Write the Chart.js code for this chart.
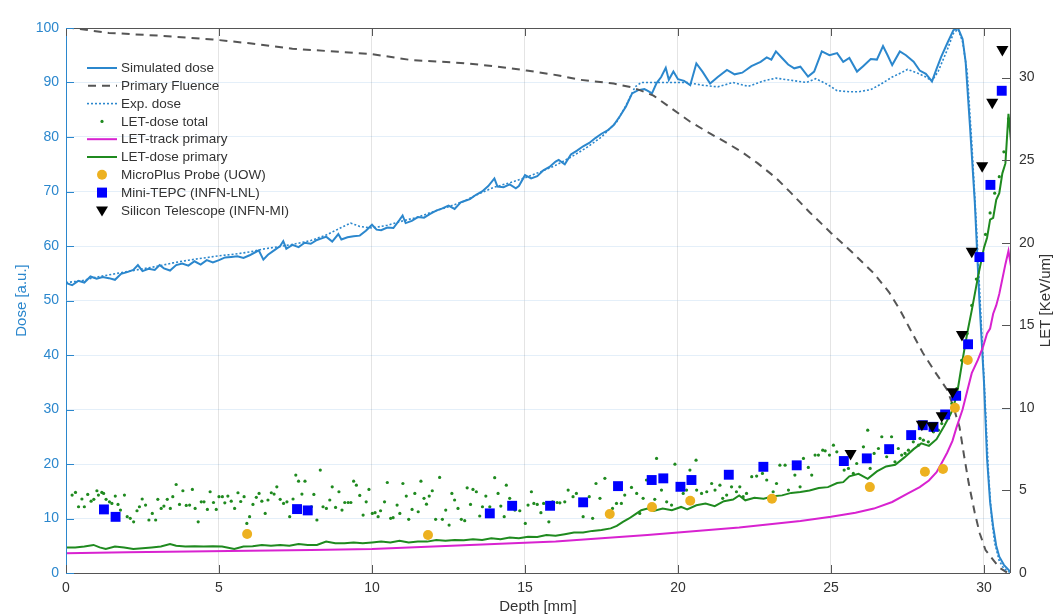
<!DOCTYPE html>
<html><head><meta charset="utf-8">
<script src="https://cdn.jsdelivr.net/npm/chart.js@4.4.1/dist/chart.umd.min.js"></script>
<style>html,body{margin:0;padding:0;background:#fff;overflow:hidden}</style>
</head><body>
<canvas id="c" width="1056" height="615"></canvas>
<script>
// ---------- DATA ----------
const seriesNames = ["Simulated dose","Primary Fluence","Exp. dose","LET-dose total","LET-track primary","LET-dose primary","MicroPlus Probe (UOW)","Mini-TEPC (INFN-LNL)","Silicon Telescope (INFN-MI)"];
const xTicks = [0,5,10,15,20,25,30];
const doseTicks = [0,10,20,30,40,50,60,70,80,90,100];
const letTicks = [0,5,10,15,20,25,30];

const simDepth = [0,0.2,0.4,0.6,0.8,1.0,1.2,1.4,1.6,1.8,2.0,2.2,2.35,2.5,2.7,2.9,3.06,3.2,3.4,3.6,3.8,4.0,4.2,4.4,4.6,4.8,5.0,5.2,5.4,5.6,5.8,6.0,6.2,6.3,6.45,6.6,6.8,7.0,7.1,7.2,7.4,7.6,7.8,8.0,8.2,8.4,8.5,8.7,8.9,9.0,9.2,9.4,9.6,9.8,10.0,10.15,10.3,10.5,10.7,10.9,11.0,11.1,11.3,11.5,11.7,11.9,12.1,12.3,12.5,12.7,12.9,13.0,13.2,13.4,13.6,13.8,14.0,14.1,14.3,14.5,14.7,14.8,15.0,15.2,15.4,15.6,15.8,16.0,16.1,16.3,16.5,16.7,16.9,17.1,17.3,17.5,17.7,17.9,18.1,18.3,18.5,18.7,18.9,19.0,19.15,19.3,19.45,19.6,19.7,19.85,20.0,20.2,20.4,20.6,20.8,21.05,21.3,21.6,21.85,22.1,22.4,22.7,22.9,23.05,23.2,23.4,23.6,23.8,24.0,24.25,24.45,24.7,24.95,25.2,25.4,25.6,25.85,26.05,26.3,26.5,26.7,26.85,27.0,27.25,27.45,27.7,27.9,28.1,28.3,28.45,28.6,28.8,29.0,29.15,29.3,29.4,29.55,29.7,29.85,30.0,30.1,30.2,30.3,30.4,30.5,30.65,30.85];
const simDose = [53.2,52.8,53.6,53.3,54.4,54.0,54.3,54.1,53.8,54.9,55.2,55.6,56.5,55.4,55.8,55.6,56.5,55.9,55.5,56.5,56.8,56.4,57.2,56.6,57.4,57.0,57.4,57.9,58.0,58.1,57.8,58.3,58.9,59.2,57.5,58.4,59.2,60.0,60.9,59.5,60.2,59.8,60.6,60.4,61.1,61.5,61.7,60.8,62.2,61.2,61.6,61.8,61.9,62.8,63.9,63.0,62.9,63.4,63.3,64.8,65.6,64.2,64.6,65.3,65.2,65.9,66.5,66.9,67.4,66.8,68.0,68.2,68.6,69.4,70.0,71.0,72.4,70.9,70.8,71.3,70.6,71.0,73.0,72.4,72.8,73.9,74.5,75.5,75.8,75.0,76.8,77.5,78.3,78.9,79.8,80.6,81.2,82.2,83.8,85.6,88.0,88.6,88.8,88.5,88.0,89.9,91.0,92.7,90.5,92.0,90.6,90.3,89.5,93.5,92.0,89.8,91.0,92.3,91.5,91.8,93.0,93.8,94.6,94.2,95.7,94.5,93.3,92.6,92.9,91.1,92.0,95.7,95.0,95.4,93.8,94.5,92.0,93.0,94.3,94.2,96.7,95.0,93.2,95.7,95.0,93.8,92.2,91.6,90.2,92.5,94.7,97.2,99.6,100.0,98.0,93.8,81.3,68,50,35,21,13,8.5,5,3,1.5,0.3];

const expDepth = [0,0.5,1,1.5,2,2.5,3,3.5,4,4.5,5,5.5,6,6.5,7,7.5,8,8.5,9,9.3,9.6,10,10.5,11,11.5,12,12.5,13,13.5,14,14.5,15,15.5,16,16.5,17,17.5,18,18.3,18.6,18.8,19.5,20.3,20.8,21.3,21.8,22.3,22.8,23.2,23.7,24.2,24.5,24.9,25.2,25.6,25.9,26.3,26.6,27,27.3,27.5,27.8,28.1,28.3,28.5,28.8,29,29.15,29.3,29.45,29.6,29.75,29.9,30.05,30.15,30.25,30.35,30.5,30.65,30.85];
const expDose = [53.3,53.6,54.3,54.8,55.3,55.8,56.3,56.9,57.4,57.8,58.2,58.5,58.9,59.5,59.9,60.4,61.0,62.0,63.4,64.2,63.6,63.3,63.8,64.6,65.3,66.3,67.2,68.2,69.6,70.8,71.6,72.5,73.6,74.8,76.3,78.0,80.0,82.8,85.8,89.2,90.0,90.0,90.0,89.5,89.2,90.0,89.3,90.3,90.8,90.4,90.0,90.7,89.6,88.5,88.3,88.3,88.7,89.6,91.0,91.8,92.4,91.8,91.0,90.3,92.0,96.0,99.0,99.8,97.5,92.0,79,64,47,30,18,10,5.5,2.2,0.8,0.1];

const fluDepth = [0,0.2,1.4,3,4.8,6,7.4,9,10,11.3,12.9,14,15.05,16.1,16.8,17.9,18.5,18.75,19.2,19.7,20.1,20.4,21.0,21.6,22.1,22.6,23.2,23.7,24.3,25.0,25.7,26.4,26.9,27.25,27.6,28.0,28.4,28.8,29.0,29.2,29.35,29.5,29.7,29.86,30.05,30.3,30.5,30.75];
const fluValue = [100,100,99.1,98.6,97.9,97.2,96.2,95.6,95.2,94.1,93.6,93.0,92.2,91.3,90.5,89.8,89.1,88.6,87.6,85.6,84.0,82.8,80.8,78.9,77.2,75.2,72.5,69.7,66.2,62.4,58.8,55.0,51.5,48.3,44.6,40.4,36.9,33.6,30.5,26.8,21.5,16.5,11,7.3,4.2,2.4,1.0,0.1];

const trackDepth = [0,2,4,6,8,10,12,14,16,17.5,19,20,21,22,23,24,25,25.8,26.4,27,27.5,27.9,28.2,28.45,28.6,28.8,28.97,29.1,29.3,29.45,29.6,29.8,29.97,30.1,30.2,30.3,30.4,30.5,30.6,30.7,30.8,30.88];
const trackLET = [1.2,1.25,1.3,1.35,1.4,1.45,1.6,1.75,1.9,2.1,2.3,2.45,2.6,2.75,2.95,3.15,3.4,3.65,3.9,4.3,4.8,5.2,5.6,6.1,6.6,7.3,8.0,8.8,9.9,11.0,12.1,12.9,13.7,14.5,14.8,15.7,16.2,16.9,17.8,18.7,19.5,18.6];

const ldpDepth = [0,0.3,0.6,0.9,1.1,1.3,1.6,1.9,2.2,2.5,2.8,3.1,3.4,3.6,3.9,4.2,4.5,4.8,5.1,5.5,5.8,6.1,6.4,6.7,7.0,7.3,7.6,7.9,8.2,8.5,8.8,9.1,9.4,9.7,10.0,10.3,10.6,10.9,11.2,11.5,11.8,12.1,12.4,12.7,13.0,13.3,13.6,13.9,14.2,14.5,14.8,15.1,15.4,15.7,16.0,16.3,16.6,16.9,17.2,17.5,17.8,18.0,18.2,18.4,18.6,18.8,19.0,19.2,19.5,19.8,20.1,20.3,20.6,20.9,21.2,21.5,21.8,22.0,22.2,22.5,22.8,23.1,23.4,23.7,24.0,24.3,24.6,24.9,25.2,25.4,25.6,25.9,26.2,26.5,26.8,27.1,27.4,27.7,27.95,28.2,28.45,28.7,28.9,29.0,29.15,29.3,29.45,29.6,29.8,30.0,30.1,30.2,30.3,30.4,30.5,30.6,30.7,30.8,30.88];
const ldpLET = [1.55,1.55,1.6,1.7,1.55,1.45,1.6,1.55,1.45,1.5,1.55,1.6,1.75,1.65,1.6,1.62,1.6,1.62,1.6,1.45,1.6,1.62,1.7,1.65,1.7,1.65,1.75,1.7,1.7,1.9,1.8,1.8,1.85,1.8,1.85,1.9,1.85,1.95,1.85,1.9,1.9,2.0,1.95,2.0,1.98,2.05,2.0,2.1,2.05,2.15,2.1,2.2,2.18,2.3,2.25,2.35,2.45,2.45,2.55,2.6,2.7,2.85,3.1,3.3,3.55,3.8,3.9,3.75,3.9,3.8,4.0,3.85,4.1,4.2,4.05,4.35,4.45,4.7,4.4,4.55,4.5,4.65,4.7,4.85,4.9,5.0,5.15,5.2,5.45,5.5,5.85,6.0,5.7,6.15,6.45,6.55,7.0,7.5,7.85,7.7,8.1,8.9,9.6,10.0,11.2,12.9,14.5,15.9,17.9,19.7,20.3,21.4,21.5,22.6,23.0,24.2,24.8,27.8,26.2];

const totDepth = [0.20,0.31,0.41,0.52,0.60,0.71,0.82,0.91,1.01,1.06,1.17,1.23,1.31,1.42,1.50,1.61,1.70,1.78,1.91,2.00,2.10,2.21,2.32,2.40,2.49,2.60,2.71,2.82,2.93,3.00,3.11,3.20,3.31,3.41,3.49,3.60,3.71,3.82,3.93,4.04,4.13,4.22,4.32,4.42,4.51,4.62,4.71,4.82,4.91,5.00,5.11,5.19,5.29,5.40,5.51,5.62,5.71,5.82,5.91,6.00,6.11,6.22,6.31,6.40,6.51,6.60,6.71,6.80,6.89,7.00,7.11,7.22,7.31,7.42,7.51,7.60,7.71,7.81,7.91,8.02,8.10,8.20,8.31,8.40,8.51,8.62,8.70,8.81,8.92,9.02,9.11,9.22,9.31,9.40,9.49,9.60,9.71,9.81,9.90,10.01,10.10,10.20,10.28,10.41,10.50,10.61,10.69,10.82,10.91,11.01,11.12,11.20,11.31,11.40,11.51,11.60,11.70,11.78,11.87,11.97,12.08,12.21,12.30,12.41,12.52,12.61,12.70,12.81,12.92,13.03,13.11,13.22,13.30,13.41,13.52,13.61,13.72,13.85,14.01,14.12,14.21,14.32,14.39,14.50,14.67,14.83,15.01,15.10,15.21,15.29,15.40,15.52,15.61,15.78,15.90,16.05,16.14,16.30,16.41,16.57,16.68,16.90,17.10,17.21,17.32,17.45,17.61,17.86,17.99,18.15,18.26,18.48,18.65,18.75,18.86,18.97,19.24,19.30,19.46,19.63,19.79,19.90,20.01,20.17,20.28,20.39,20.59,20.61,20.77,20.94,21.10,21.21,21.37,21.46,21.59,21.75,21.91,22.02,22.13,22.24,22.41,22.57,22.76,22.90,23.11,23.22,23.33,23.50,23.61,23.82,23.99,24.10,24.26,24.37,24.48,24.59,24.73,24.81,24.95,25.08,25.19,25.43,25.57,25.73,25.84,26.06,26.20,26.28,26.41,26.55,26.66,26.82,26.98,27.09,27.20,27.31,27.42,27.53,27.69,27.86,27.91,28.02,28.18,28.35,28.51,28.62,28.78,28.95,29.11,29.27,29.45,29.6,29.75,29.9,30.05,30.2,30.35,30.5,30.65,30.8];
const totLET = [4.72,4.88,4.01,4.48,4.01,4.76,4.35,4.46,4.98,4.72,4.88,4.82,4.46,4.31,4.21,4.66,4.15,3.81,4.72,3.41,3.31,3.10,3.77,4.01,4.48,4.11,3.21,3.61,3.21,4.46,3.91,4.05,4.46,3.91,4.62,5.36,4.15,4.98,4.09,4.11,5.06,3.91,3.10,4.31,4.31,3.85,4.92,4.27,3.85,4.62,4.62,4.25,4.66,4.35,3.91,4.86,4.33,4.62,3.00,3.41,4.15,4.58,4.82,4.35,3.61,4.42,4.86,4.78,5.22,4.46,4.21,4.31,3.41,4.48,5.93,5.56,4.78,5.56,3.81,4.01,4.76,3.21,6.23,4.01,3.91,4.42,5.22,3.97,4.92,3.81,4.27,4.27,4.27,5.56,5.32,4.70,3.51,4.31,5.06,3.61,3.65,3.41,3.77,4.31,5.48,3.31,3.35,4.11,3.61,5.42,4.66,3.25,3.85,4.82,3.71,5.56,4.52,4.17,4.66,4.98,3.25,5.79,3.25,3.81,2.90,4.82,4.42,3.91,3.25,3.17,5.16,4.15,5.06,4.92,3.45,4.01,4.66,4.01,5.77,4.82,4.05,3.41,5.32,4.52,3.81,3.77,3.00,4.11,4.92,4.21,4.15,3.65,4.21,3.10,4.31,4.27,4.25,4.31,5.02,4.62,4.82,3.41,4.62,3.31,5.42,4.52,5.73,3.91,4.21,4.21,4.72,5.18,4.82,3.61,4.52,5.63,4.46,6.94,5.02,4.31,4.11,6.59,5.42,4.82,5.02,6.23,6.83,5.02,4.82,4.92,5.42,5.02,5.32,4.52,4.72,5.22,4.92,5.22,4.62,4.82,5.83,5.87,6.03,5.63,4.92,5.42,6.53,6.53,5.02,5.93,5.22,6.94,6.39,5.93,7.14,7.14,7.44,7.40,7.14,7.74,7.34,6.23,6.33,6.03,6.63,7.64,8.65,6.33,7.24,7.54,8.25,7.04,8.25,6.73,7.54,7.14,7.24,7.44,7.94,7.74,8.15,8.04,7.94,8.55,8.65,9.05,9.66,10.26,11.17,12.88,14.5,16.2,17.8,19.3,20.5,21.8,23.0,24.0,25.5,27.5];

const uowDepth = [5.92,11.83,17.77,19.15,20.4,23.07,26.27,28.07,28.66,29.05,29.47];
const uowLET = [2.36,2.3,3.57,3.99,4.37,4.5,5.2,6.13,6.3,10.0,12.9];

const tepcDepth = [1.24,1.62,7.55,7.9,13.85,14.58,15.82,16.9,18.04,19.14,19.52,20.08,20.44,21.66,22.79,23.88,25.42,26.17,26.9,27.62,28.0,28.35,28.73,29.09,29.48,29.85,30.21,30.58];
const tepcLET = [3.85,3.4,3.87,3.79,3.61,4.07,4.07,4.28,5.26,5.63,5.73,5.22,5.63,5.95,6.43,6.52,6.78,6.94,7.5,8.35,8.95,8.85,9.6,10.73,13.85,19.13,23.5,29.2];

const siDepth = [25.64,27.97,28.31,28.62,28.97,29.28,29.6,29.94,30.27,30.6];
const siLET = [7.24,9.0,8.91,9.52,10.97,14.44,19.48,24.66,28.5,31.7];

// ---------- helpers ----------
const pts = (xs, ys) => xs.map((x, i) => ({x: x, y: ys[i]}));

const BLUE = '#2b87cd';
const AX = '#333333';
const GREEN = '#1f8a1f';
const MAGENTA = '#d822d0';
const ORANGE = '#EDB120';
const FONT = '"Liberation Sans", Arial, Helvetica, sans-serif';

const datasets = [
  {label: seriesNames[8], data: pts(siDepth, siLET), yAxisID: 'yR', pointStyle: 'triangle', rotation: 180, pointRadius: 7, backgroundColor: '#000', borderColor: '#000', borderWidth: 0, showLine: false},
  {label: seriesNames[7], data: pts(tepcDepth, tepcLET), yAxisID: 'yR', pointStyle: 'rect', pointRadius: 7, backgroundColor: '#0000ff', borderColor: '#0000ff', borderWidth: 0, showLine: false},
  {label: seriesNames[6], data: pts(uowDepth, uowLET), yAxisID: 'yR', pointStyle: 'circle', pointRadius: 5, backgroundColor: ORANGE, borderColor: ORANGE, borderWidth: 0, showLine: false},
  {label: seriesNames[5], data: pts(ldpDepth, ldpLET), yAxisID: 'yR', showLine: true, borderColor: GREEN, borderWidth: 2, pointRadius: 0, fill: false},
  {label: seriesNames[4], data: pts(trackDepth, trackLET), yAxisID: 'yR', showLine: true, borderColor: MAGENTA, borderWidth: 2, pointRadius: 0, fill: false},
  {label: seriesNames[3], data: pts(totDepth, totLET), yAxisID: 'yR', showLine: false, pointStyle: 'circle', pointRadius: 1.6, backgroundColor: GREEN, borderColor: GREEN, borderWidth: 0},
  {label: seriesNames[2], data: pts(expDepth, expDose), yAxisID: 'yL', showLine: true, borderColor: BLUE, borderWidth: 1.6, borderDash: [2, 2], pointRadius: 0, fill: false},
  {label: seriesNames[1], data: pts(fluDepth, fluValue), yAxisID: 'yL', showLine: true, borderColor: '#555555', borderWidth: 2, borderDash: [8, 6], pointRadius: 0, fill: false},
  {label: seriesNames[0], data: pts(simDepth, simDose), yAxisID: 'yL', showLine: true, borderColor: BLUE, borderWidth: 2, pointRadius: 0, fill: false}
];

const keepTicks = (list) => function(scale){ scale.ticks = list.map(v => ({value: v})); };

const decor = {
  id: 'decor',
  afterDraw(chart) {
    const ctx = chart.ctx, a = chart.chartArea;
    const sx = chart.scales.x, sl = chart.scales.yL, sr = chart.scales.yR;
    ctx.save();
    // frame
    ctx.lineWidth = 1;
    ctx.strokeStyle = '#555';
    ctx.beginPath(); ctx.moveTo(a.left, a.top + 0.5); ctx.lineTo(a.right, a.top + 0.5); ctx.stroke();
    ctx.beginPath(); ctx.moveTo(a.left, a.bottom + 0.5); ctx.lineTo(a.right, a.bottom + 0.5); ctx.stroke();
    ctx.beginPath(); ctx.moveTo(a.right + 0.5, a.top); ctx.lineTo(a.right + 0.5, a.bottom); ctx.stroke();
    ctx.strokeStyle = BLUE;
    ctx.beginPath(); ctx.moveTo(a.left + 0.5, a.top); ctx.lineTo(a.left + 0.5, a.bottom); ctx.stroke();
    // inward ticks
    const TL = 8;
    ctx.strokeStyle = '#555';
    xTicks.forEach(v => {
      const px = Math.round(sx.getPixelForValue(v)) + 0.5;
      ctx.beginPath(); ctx.moveTo(px, a.bottom); ctx.lineTo(px, a.bottom - TL); ctx.stroke();
      ctx.beginPath(); ctx.moveTo(px, a.top); ctx.lineTo(px, a.top + TL); ctx.stroke();
    });
    letTicks.forEach(v => {
      const py = Math.round(sr.getPixelForValue(v)) + 0.5;
      ctx.beginPath(); ctx.moveTo(a.right, py); ctx.lineTo(a.right - TL, py); ctx.stroke();
    });
    ctx.strokeStyle = BLUE;
    doseTicks.forEach(v => {
      const py = Math.round(sl.getPixelForValue(v)) + 0.5;
      ctx.beginPath(); ctx.moveTo(a.left, py); ctx.lineTo(a.left + TL, py); ctx.stroke();
    });
    // axis titles
    ctx.font = '15px ' + FONT;
    ctx.textAlign = 'center'; ctx.textBaseline = 'middle';
    ctx.fillStyle = BLUE;
    ctx.save(); ctx.translate(22, (a.top + a.bottom) / 2); ctx.rotate(-Math.PI / 2); ctx.fillText('Dose [a.u.]', 0, 0); ctx.restore();
    ctx.fillStyle = AX;
    ctx.save(); ctx.translate(1046, (a.top + a.bottom) / 2); ctx.rotate(-Math.PI / 2); ctx.fillText('LET [KeV/um]', 0, 0); ctx.restore();
    ctx.textBaseline = 'top';
    ctx.fillText('Depth [mm]', (a.left + a.right) / 2, 599);

    // legend
    const lx0 = 87, lx1 = 117, tx = 121, ly0 = 68, dy = 17.8;
    ctx.font = '13.5px ' + FONT;
    ctx.textAlign = 'left'; ctx.textBaseline = 'middle';
    seriesNames.forEach((name, i) => {
      const y = ly0 + i * dy;
      const xm = (lx0 + lx1) / 2;
      ctx.setLineDash([]);
      if (i === 0) { ctx.strokeStyle = BLUE; ctx.lineWidth = 2; ctx.beginPath(); ctx.moveTo(lx0, y); ctx.lineTo(lx1, y); ctx.stroke(); }
      if (i === 1) { ctx.strokeStyle = '#555'; ctx.lineWidth = 2; ctx.setLineDash([8, 6]); ctx.beginPath(); ctx.moveTo(lx0 + 1, y); ctx.lineTo(lx1, y); ctx.stroke(); ctx.setLineDash([]); }
      if (i === 2) { ctx.strokeStyle = BLUE; ctx.lineWidth = 1.6; ctx.setLineDash([2, 2]); ctx.beginPath(); ctx.moveTo(lx0, y); ctx.lineTo(lx1, y); ctx.stroke(); ctx.setLineDash([]); }
      if (i === 3) { ctx.fillStyle = GREEN; ctx.beginPath(); ctx.arc(xm, y, 1.6, 0, Math.PI * 2); ctx.fill(); }
      if (i === 4) { ctx.strokeStyle = MAGENTA; ctx.lineWidth = 2; ctx.beginPath(); ctx.moveTo(lx0, y); ctx.lineTo(lx1, y); ctx.stroke(); }
      if (i === 5) { ctx.strokeStyle = GREEN; ctx.lineWidth = 2; ctx.beginPath(); ctx.moveTo(lx0, y); ctx.lineTo(lx1, y); ctx.stroke(); }
      if (i === 6) { ctx.fillStyle = ORANGE; ctx.beginPath(); ctx.arc(xm, y, 5, 0, Math.PI * 2); ctx.fill(); }
      if (i === 7) { ctx.fillStyle = '#0000ff'; ctx.fillRect(xm - 5, y - 5, 10, 10); }
      if (i === 8) { ctx.fillStyle = '#000'; ctx.beginPath(); ctx.moveTo(xm - 6, y - 4); ctx.lineTo(xm + 6, y - 4); ctx.lineTo(xm, y + 6); ctx.closePath(); ctx.fill(); }
      ctx.fillStyle = AX;
      ctx.fillText(name, tx, y + 0.5);
    });
    ctx.restore();
  }
};

new Chart(document.getElementById('c'), {
  type: 'scatter',
  data: {datasets: datasets},
  options: {
    responsive: false,
    devicePixelRatio: 1,
    animation: false,
    layout: {padding: {top: 28, left: 0, right: 0, bottom: 0}},
    plugins: {legend: {display: false}, tooltip: {enabled: false}},
    scales: {
      x: {
        type: 'linear', min: 0, max: 30.85,
        afterBuildTicks: keepTicks(xTicks),
        afterFit(s) { s.height = 42; },
        grid: {color: '#e4e4e4', drawTicks: false, lineWidth: 1},
        border: {display: false},
        ticks: {autoSkip: false, maxRotation: 0, padding: 7, color: AX, font: {family: FONT, size: 14}}
      },
      yL: {
        type: 'linear', position: 'left', min: 0, max: 100,
        afterBuildTicks: keepTicks(doseTicks),
        afterFit(s) { s.width = 66; },
        grid: {color: 'rgba(43,135,205,0.13)', drawTicks: false, lineWidth: 1},
        border: {display: false},
        ticks: {autoSkip: false, padding: 7, color: BLUE, font: {family: FONT, size: 14}}
      },
      yR: {
        type: 'linear', position: 'right', min: 0, max: 33,
        afterBuildTicks: keepTicks(letTicks),
        afterFit(s) { s.width = 46; },
        grid: {display: false, drawTicks: false},
        border: {display: false},
        ticks: {autoSkip: false, padding: 9, color: AX, font: {family: FONT, size: 14}}
      }
    }
  },
  plugins: [decor]
});
</script>
</body></html>
